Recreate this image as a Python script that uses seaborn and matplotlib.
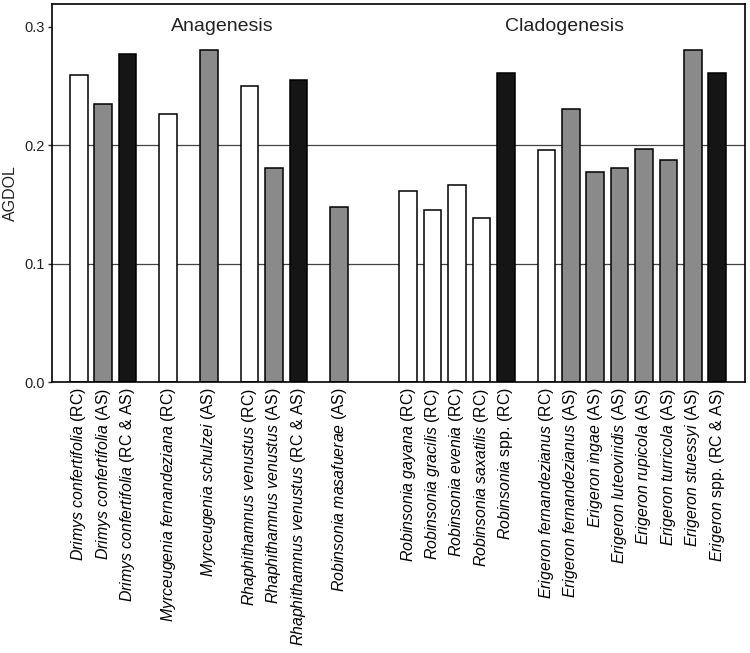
import numpy as np
import pandas as pd
import matplotlib
matplotlib.use("Agg")
import matplotlib.pyplot as plt
import seaborn as sns

# ---- data ----
species = ["Drimys confertifolia", "Drimys confertifolia", "Drimys confertifolia",
           "Myrceugenia fernandeziana", "Myrceugenia schulzei",
           "Rhaphithamnus venustus", "Rhaphithamnus venustus", "Rhaphithamnus venustus",
           "Robinsonia masafuerae",
           "Robinsonia gayana", "Robinsonia gracilis", "Robinsonia evenia",
           "Robinsonia saxatilis", "Robinsonia",
           "Erigeron fernandezianus", "Erigeron fernandezianus", "Erigeron ingae",
           "Erigeron luteoviridis", "Erigeron rupicola", "Erigeron turricola",
           "Erigeron stuessyi", "Erigeron"]
suffix = ["(RC)", "(AS)", "(RC & AS)", "(RC)", "(AS)", "(RC)", "(AS)", "(RC & AS)", "(AS)",
          "(RC)", "(RC)", "(RC)", "(RC)", "spp. (RC)",
          "(RC)", "(AS)", "(AS)", "(AS)", "(AS)", "(AS)", "(AS)", "spp. (RC & AS)"]
source = ["RC", "AS", "RC & AS", "RC", "AS", "RC", "AS", "RC & AS", "AS",
          "RC", "RC", "RC", "RC", "RC & AS",
          "RC", "AS", "AS", "AS", "AS", "AS", "AS", "RC & AS"]
agdol = [0.259, 0.235, 0.277, 0.226, 0.280, 0.250, 0.181, 0.255, 0.148,
         0.161, 0.145, 0.166, 0.138, 0.261,
         0.196, 0.230, 0.177, 0.181, 0.197, 0.187, 0.280, 0.261]
group = ["Anagenesis"] * 9 + ["Cladogenesis"] * 13
cluster = [0, 0, 0, 1, 2, 3, 3, 3, 4, 5, 5, 5, 5, 5, 6, 6, 6, 6, 6, 6, 6, 6]

# ---- layout: bar positions from cluster / group structure ----
pos = []
p = 0.0
for i in range(len(agdol)):
    if i > 0:
        if group[i] != group[i - 1]:
            p += 2.833
        elif cluster[i] != cluster[i - 1]:
            p += 1.667
        else:
            p += 1.0
    pos.append(round(p, 4))

labels = []
for sp, sf in zip(species, suffix):
    it = sp.replace(" ", r"\ ")
    labels.append(r"$\mathit{" + it + "}$ " + sf)

df = pd.DataFrame({"pos": pos, "value": agdol, "source": source})

sns.set_theme(style="white")
plt.rcParams["font.family"] = ["Liberation Sans", "DejaVu Sans"]
plt.rcParams["mathtext.fontset"] = "custom"
plt.rcParams["mathtext.it"] = "Liberation Sans:italic"
plt.rcParams["mathtext.rm"] = "Liberation Sans"
plt.rcParams["mathtext.bf"] = "Liberation Sans:bold"

fig = plt.figure(figsize=(7.5, 6.53), dpi=100)
ax = fig.add_axes([52 / 750, 1 - 382 / 653, (745 - 52) / 750, (382 - 4) / 653])

palette = {"RC": "#ffffff", "AS": "#8a8a8a", "RC & AS": "#151515"}
sns.barplot(data=df, x="pos", y="value", hue="source", palette=palette,
            native_scale=True, dodge=False, width=0.72, errorbar=None,
            edgecolor="black", linewidth=1.1, legend=False, ax=ax, saturation=1)

for yv in (0.1, 0.2):
    ax.axhline(yv, color="#444444", lw=0.9, zorder=0.5)

ax.set_xlim(-1.10, 27.31)
ax.set_ylim(0, 0.319)
ax.set_xticks(pos)
ax.set_xticklabels(labels, rotation=90, fontsize=11.4, color="black")
ax.tick_params(axis="x", length=0, pad=4)
ax.set_yticks([0.0, 0.1, 0.2, 0.3])
ax.set_yticklabels(["0.0", "0.1", "0.2", "0.3"], fontsize=10.5, color="#222222")
ax.tick_params(axis="y", length=3, width=1, direction="out", left=True, pad=2)
ax.set_xlabel("")
ax.set_ylabel("AGDOL", fontsize=11.5, color="#222222", labelpad=5)
for s in ax.spines.values():
    s.set_visible(True)
    s.set_color("black")
    s.set_linewidth(1.2)

ax.text(0.2463, 0.94, "Anagenesis", transform=ax.transAxes, ha="center",
        va="center", fontsize=14, color="#222222")
ax.text(0.740, 0.94, "Cladogenesis", transform=ax.transAxes, ha="center",
        va="center", fontsize=14, color="#222222")

fig.savefig("out.png", dpi=100)
